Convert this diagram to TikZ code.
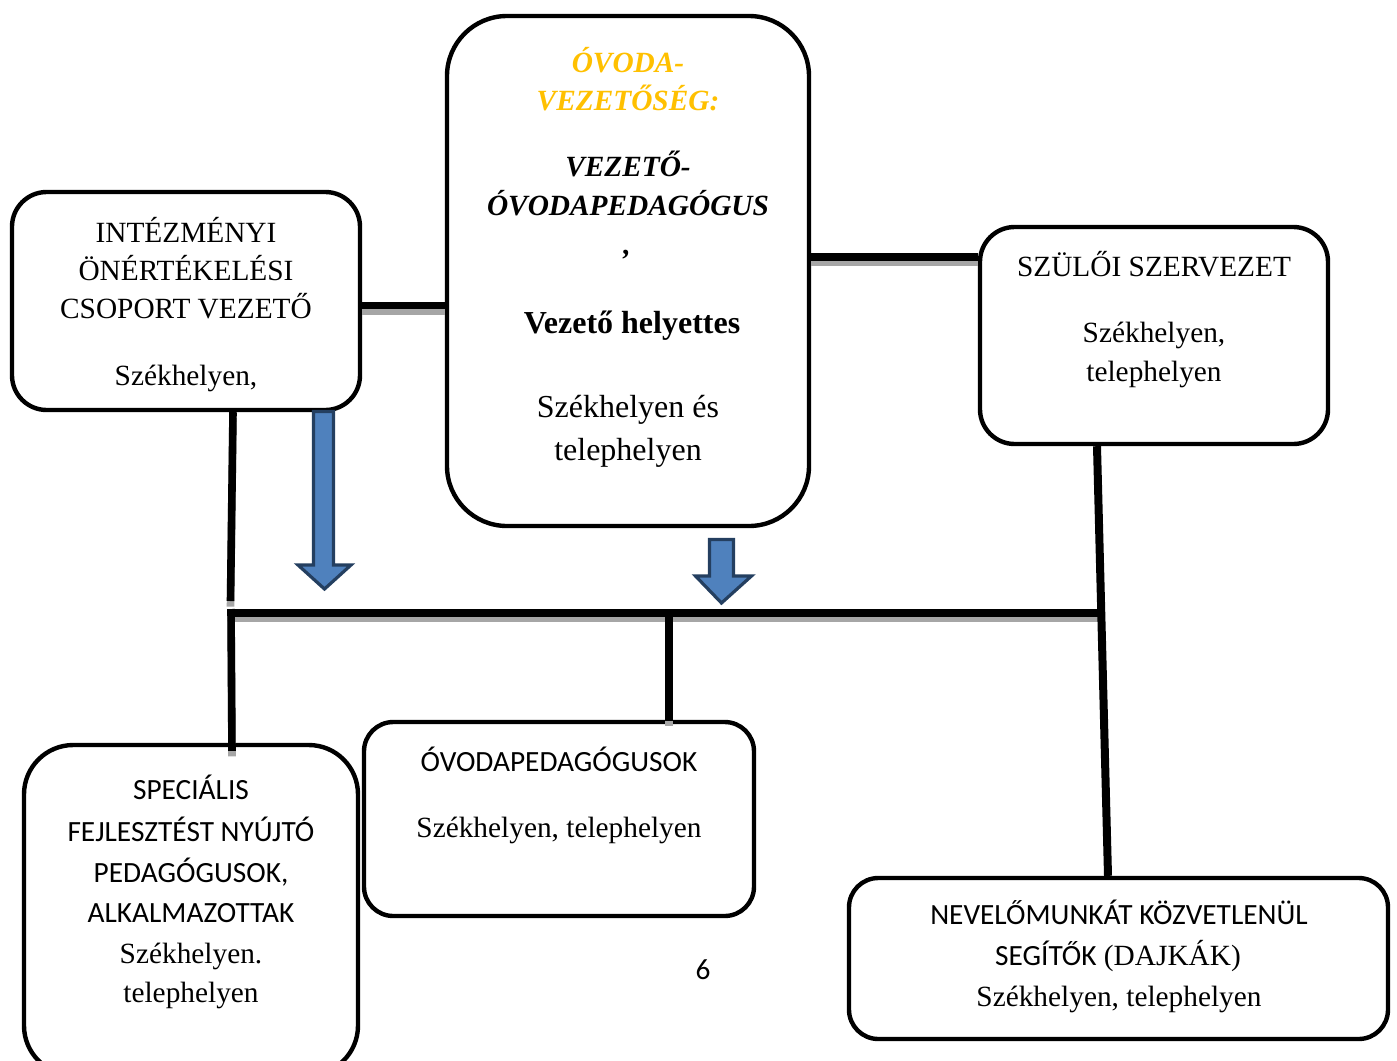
\documentclass[tikz,border=0pt]{standalone}
\usepackage{fontspec}
\setmainfont{Liberation Serif}
\newfontfamily\calfont{Carlito}
\usetikzlibrary{calc}
\definecolor{gold}{HTML}{FFC000}
\definecolor{arrfill}{HTML}{4F81BD}
\definecolor{arrline}{HTML}{243F60}
\definecolor{shadowgray}{HTML}{A6A6A6}
\begin{document}
\begin{tikzpicture}[x=0.75pt,y=-0.75pt,
  box/.style={draw=black,line width=3.3pt,rounded corners=#1,inner sep=0pt},
  conn/.style={draw=black,line width=5.7pt},
  shad/.style={draw=shadowgray,line width=5.7pt,transform canvas={yshift=-4.2pt}},
  blockarrow/.style={fill=arrfill,draw=arrline,line width=2.4pt,line join=miter},
  tx/.style={inner sep=0pt,anchor=base,font=\fontsize{22}{26}\selectfont},
  txb/.style={inner sep=0pt,anchor=base,font=\fontsize{24}{28}\selectfont},
  txs/.style={inner sep=0pt,anchor=base,font=\calfont\fontsize{22}{26}\selectfont}]
\useasboundingbox (0,0) rectangle (1397,1061);

% boxes
\node[box=26pt,minimum width=261pt,minimum height=163.5pt] (b1) at (186,301) {};
\node[box=45pt,minimum width=271.5pt,minimum height=382.5pt] (b2) at (628,271) {};
\node[box=26pt,minimum width=261pt,minimum height=162.75pt] (b3) at (1154,335.5) {};
\node[box=37pt,minimum width=250.5pt,minimum height=247.5pt] (b4) at (191,910) {};
\node[box=22pt,minimum width=292.5pt,minimum height=145.5pt] (b5) at (559,819) {};
\node[box=22pt,minimum width=404.25pt,minimum height=120.75pt] (b6) at (1118.5,958.5) {};

% helper coordinates
\coordinate (xA) at (233,0);
\coordinate (xB) at (230.5,601);
\coordinate (busL) at (231,613);
\coordinate (busR) at (1101,613);
\coordinate (xC) at (232,0);
\coordinate (xD) at (669,0);
\coordinate (xE) at (1097,0);
\coordinate (xF) at (1108,0);
\coordinate (y1) at (0,305.5);
\coordinate (y2) at (0,256.7);

% shadows
\draw[shad] (b1.east |- y1) -- (b2.west |- y1);
\draw[shad] (b2.east |- y2) -- (b3.west |- y2);
\draw[shad] (b1.south -| xA) -- (xB);
\draw[shad] (busL) -- (busR);
\draw[shad] ($(busL)+(0,-4)$) -- ($(b4.north -| xC)+(0,8)$);
\draw[shad] (busL -| xD) -- ($(b5.north -| xD)+(0,1)$);

% black connectors
\draw[conn] (b1.east |- y1) -- (b2.west |- y1);
\draw[conn] (b2.east |- y2) -- (b3.west |- y2);
\draw[conn] (b1.south -| xA) -- (xB);
\draw[conn] (busL) -- (busR);
\draw[conn] ($(busL)+(0,-4)$) -- ($(b4.north -| xC)+(0,8)$);
\draw[conn] (busL -| xD) -- ($(b5.north -| xD)+(0,1)$);
\draw[conn,line width=6pt] (b3.south -| xE) -- (b6.north -| xF);

% block arrows
\draw[blockarrow] (313.5,411.5) -- (333.5,411.5) -- (333.5,565) -- (351,565)
  -- (324.5,589) -- (298,565) -- (313.5,565) -- cycle;
\draw[blockarrow] (709.5,539.5) -- (733.5,539.5) -- (733.5,576) -- (751.5,576)
  -- (721.5,603) -- (695.5,576) -- (709.5,576) -- cycle;

% box 1 texts
\node[tx] (t11) at (186,242) {INTÉZMÉNYI};
\node[tx] (t12) at (186,280) {ÖNÉRTÉKELÉSI};
\node[tx] (t13) at (186,318) {CSOPORT VEZETŐ};
\node[tx] (t14) at (186,385) {Székhelyen,};

% box 2 texts
\node[tx,text=gold,font=\fontsize{22}{26}\selectfont\bfseries\itshape] (t21) at (628,72) {ÓVODA-};
\node[tx,text=gold,font=\fontsize{22}{26}\selectfont\bfseries\itshape] (t22) at (628,110) {VEZETŐSÉG:};
\node[tx,font=\fontsize{22}{26}\selectfont\bfseries\itshape] (t23) at (628,176) {VEZETŐ-};
\node[tx,font=\fontsize{22}{26}\selectfont\bfseries\itshape] (t24) at (628,215) {ÓVODAPEDAGÓGUS};
\node[tx,font=\fontsize{22}{26}\selectfont\bfseries\itshape] (t25) at (627,254) {,};
\node[txb,font=\fontsize{24}{28}\selectfont\bfseries] (t26) at (632,333) {Vezető helyettes};
\node[txb] (t27) at (628,417) {Székhelyen és};
\node[txb] (t28) at (628,460) {telephelyen};

% box 3 texts
\node[tx] (t31) at (1154,276) {SZÜLŐI SZERVEZET};
\node[tx] (t32) at (1154,342) {Székhelyen,};
\node[tx] (t33) at (1154,381) {telephelyen};

% box 4 texts
\node[txs] (t41) at (191,799) {SPECIÁLIS};
\node[txs] (t42) at (191,841) {FEJLESZTÉST NYÚJTÓ};
\node[txs] (t43) at (191,882) {PEDAGÓGUSOK,};
\node[txs] (t44) at (191,922) {ALKALMAZOTTAK};
\node[tx] (t45) at (191,963) {Székhelyen.};
\node[tx] (t46) at (191,1002) {telephelyen};

% box 5 texts
\node[txs] (t51) at (559,771) {ÓVODAPEDAGÓGUSOK};
\node[tx] (t52) at (559,837) {Székhelyen, telephelyen};

% box 6 texts
\node[txs] (t61) at (1119,924) {NEVELŐMUNKÁT KÖZVETLENÜL};
\node[tx] (t62) at (1118,965) {{\calfont SEGÍTŐK} (DAJKÁK)};
\node[tx] (t63) at (1119,1006) {Székhelyen, telephelyen};

% page number
\node[txs] (pg) at (703,979) {6};
\end{tikzpicture}
\end{document}
